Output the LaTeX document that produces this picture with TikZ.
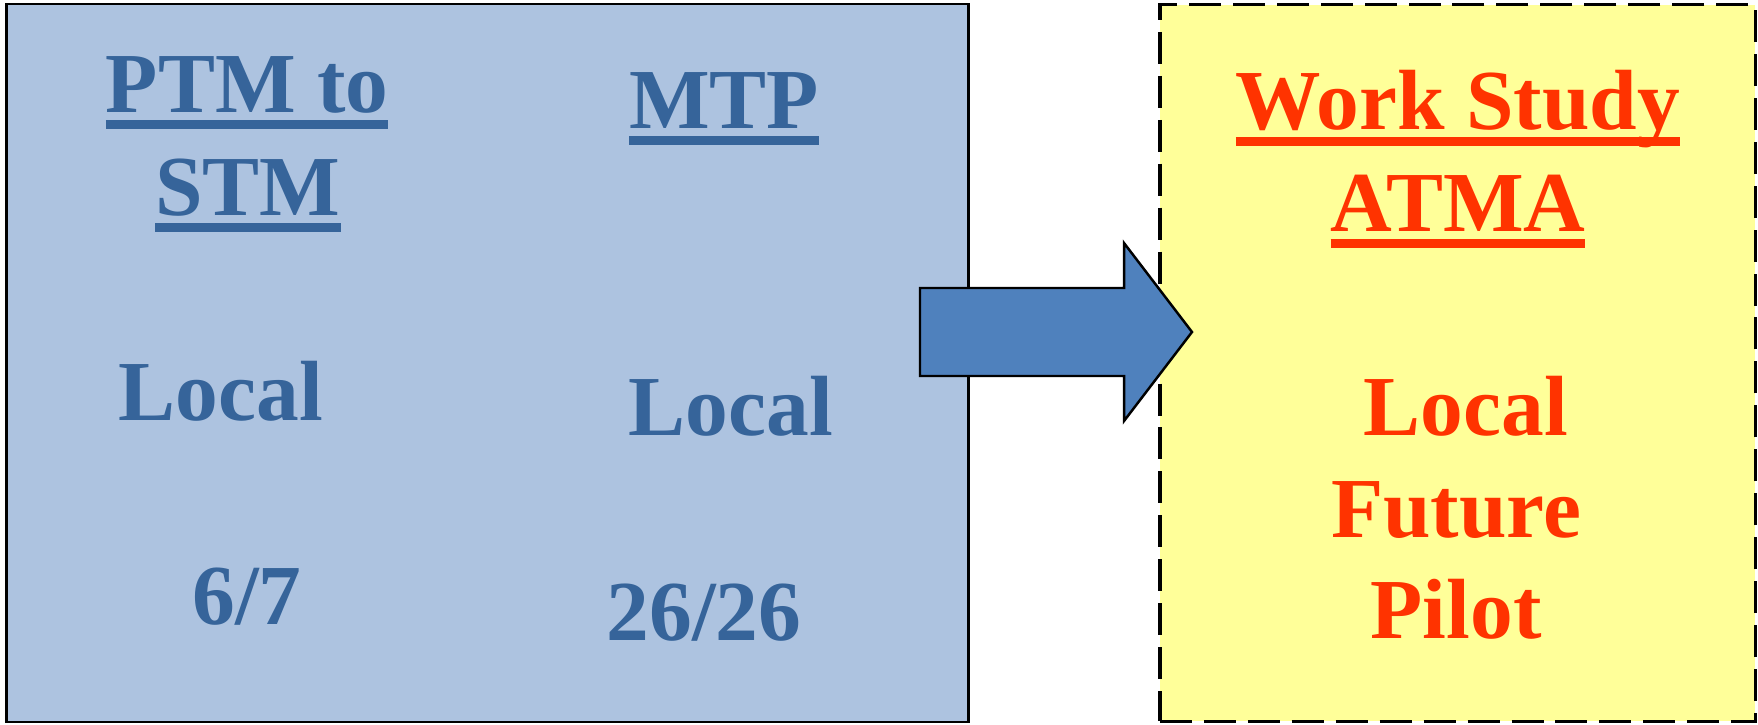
\documentclass[tikz,border=0pt]{standalone}
\usepackage{fontspec}
\setmainfont{Liberation Serif}
\definecolor{ptmfill}{HTML}{ADC3E0}
\definecolor{ptmblue}{HTML}{36649A}
\definecolor{arrowblue}{HTML}{4F81BD}
\definecolor{atmafill}{HTML}{FFFF99}
\definecolor{atmared}{HTML}{FF3300}
\newcommand\ulbar[1]{\setbox0=\hbox{#1}\rlap{\rule[-4.8pt]{\wd0}{2.5pt}}\box0}
\tikzset{
  bigtext/.style={font=\bfseries\fontsize{24.3}{30}\selectfont, anchor=base, inner sep=0pt},
  bluetext/.style={bigtext, text=ptmblue},
  redtext/.style={bigtext, text=atmared}
}

\begin{document}
\begin{tikzpicture}[x=0.01cm, y=-0.01cm]
  \useasboundingbox (0,0) rectangle (1758,724);
  % the two boxes
  \node (ptmbox) [draw, line width=0.7pt, fill=ptmfill, inner sep=0pt,
    minimum width=9.61cm, minimum height=7.18cm] at (487.5,363) {};
  \node (atmabox) [draw, line width=0.95pt, dash pattern=on 9.1pt off 3.4pt,
    fill=atmafill, inner sep=0pt, minimum width=5.95cm, minimum height=7.16cm] at (1457.5,363) {};
  % left column
  \node (ptm) [bluetext] at (247,112) {\ulbar{PTM to}};
  \node (stm) [bluetext] at (248,215) {\ulbar{STM}};
  \node (localA) [bluetext] at (221,420) {Local};
  \node (countA) [bluetext] at (247,624) {6/7};
  % right column
  \node (mtp) [bluetext] at (724,128) {\ulbar{MTP}};
  \node (localB) [bluetext] at (731,435) {Local};
  \node (countB) [bluetext] at (704,640) {26/26};
  % yellow box
  \node (work) [redtext] at (1458,129) {\ulbar{Work Study}};
  \node (atma) [redtext] at (1458,231) {\ulbar{ATMA}};
  \node (localC) [redtext] at (1466,435) {Local};
  \node (future) [redtext] at (1456,537) {Future};
  \node (pilot) [redtext] at (1456,638) {Pilot};
  % block arrow
  \coordinate (A1) at (920,288);
  \coordinate (A2) at (1124,288);
  \coordinate (A3) at (1124,243);
  \coordinate (A4) at (1192,332);
  \coordinate (A5) at (1124,421);
  \coordinate (A6) at (1124,376);
  \coordinate (A7) at (920,376);
  \draw[fill=arrowblue, line width=0.7pt, line join=miter]
    (A1) -- (A2) -- (A3) -- (A4) -- (A5) -- (A6) -- (A7) -- cycle;
\end{tikzpicture}
\end{document}
